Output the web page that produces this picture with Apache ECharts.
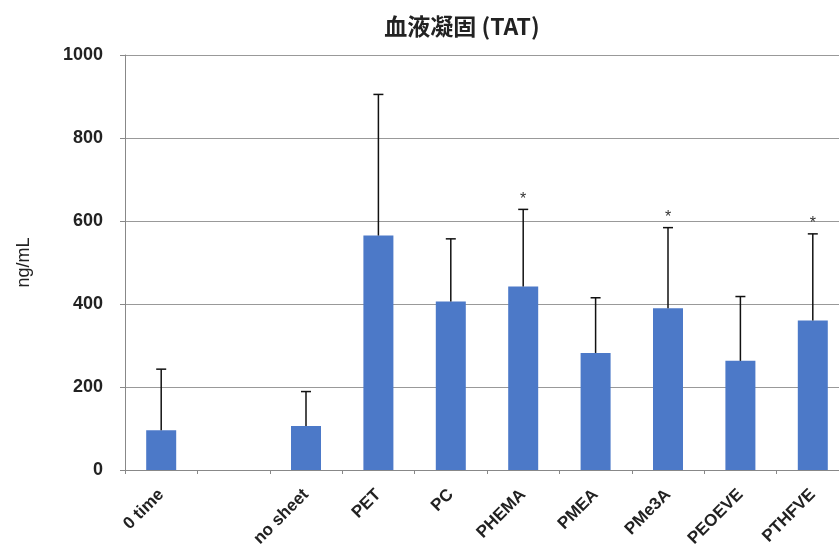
<!DOCTYPE html>
<html>
<head>
<meta charset="utf-8">
<script src="https://cdn.jsdelivr.net/npm/echarts@6/dist/echarts.min.js"></script>
<style>
  html, body { margin: 0; padding: 0; background: #fff; overflow: hidden; width: 839px; height: 555px; }
  #chart { width: 860px; height: 555px; }
</style>
</head>
<body>
<div id="chart"></div>
<script>
// Thrombin–antithrombin complex (TAT) per surface, mean + SD
const categories = ['0 time', '', 'no sheet', 'PET', 'PC', 'PHEMA', 'PMEA', 'PMe3A', 'PEOEVE', 'PTHFVE'];
const means      = [96, null, 106, 565, 406, 442, 282, 390, 263, 360];
const sd         = [147, null, 83, 340, 151, 186, 133, 194, 155, 209];
const marks      = ['', '', '', '', '', '*', '', '*', '', '*'];
const yTicks     = [0, 200, 400, 600, 800, 1000];

const font = '"Liberation Sans", Arial, Helvetica, sans-serif';
const chart = echarts.init(document.getElementById('chart'));

const errData = categories.map((c, i) =>
  means[i] == null ? [i, null, null, ''] : [i, means[i], means[i] + sd[i], marks[i]]);

chart.setOption({
  animation: false,
  title: {
    text: '血液凝固 (TAT)',
    left: 457, top: 10, textAlign: 'center',
    textStyle: { fontFamily: '"Noto Sans CJK JP", ' + font, fontSize: 23, fontWeight: 'bold', color: '#222' }
  },
  // plot area continues a little past the right edge of the page
  grid: { left: 125, right: 11, top: 55, bottom: 85 },
  xAxis: {
    type: 'category',
    data: categories,
    boundaryGap: true,
    axisLine: { lineStyle: { color: '#888', width: 1 } },
    axisTick: { show: true, length: 4, lineStyle: { color: '#888' } },
    axisLabel: {
      rotate: 45, margin: 22, interval: 0,
      fontFamily: font, fontSize: 17, fontWeight: 'bold', color: '#222'
    }
  },
  yAxis: {
    type: 'value',
    min: yTicks[0], max: yTicks[yTicks.length - 1], interval: 200,
    name: 'ng/mL', nameLocation: 'middle', nameGap: 92, nameRotate: 90,
    nameTextStyle: { fontFamily: font, fontSize: 18, color: '#222' },
    axisLine: { show: true, lineStyle: { color: '#888', width: 1 } },
    axisTick: { show: true, length: 5, lineStyle: { color: '#888' } },
    axisLabel: {
      margin: 22, fontFamily: font, fontSize: 18, fontWeight: 'bold', color: '#222',
      formatter: v => String(v)
    },
    splitLine: { lineStyle: { color: '#999', width: 1 } }
  },
  series: [
    {
      type: 'bar',
      data: means,
      barWidth: 30,
      itemStyle: { color: '#4c79c8' },
      z: 2
    },
    {
      type: 'custom',
      data: errData,
      z: 3,
      renderItem: function (params, api) {
        const lo = api.value(1), hi = api.value(2);
        if (lo == null || hi == null || isNaN(lo) || isNaN(hi)) return null;
        const idx = api.value(0);
        const pLo = api.coord([idx, lo]);
        const pHi = api.coord([idx, hi]);
        const half = 5;
        const style = { stroke: '#111', lineWidth: 1.5 };
        const children = [
          { type: 'line', shape: { x1: pLo[0], y1: pLo[1], x2: pHi[0], y2: pHi[1] }, style: style },
          { type: 'line', shape: { x1: pHi[0] - half, y1: pHi[1], x2: pHi[0] + half, y2: pHi[1] }, style: style }
        ];
        const star = marks[idx];
        if (star) {
          children.push({
            type: 'text',
            style: {
              text: star, x: pHi[0], y: pHi[1] - 2,
              align: 'center', verticalAlign: 'bottom',
              font: '16px ' + font, fill: '#333'
            }
          });
        }
        return { type: 'group', children: children };
      }
    }
  ]
});
</script>
</body>
</html>
